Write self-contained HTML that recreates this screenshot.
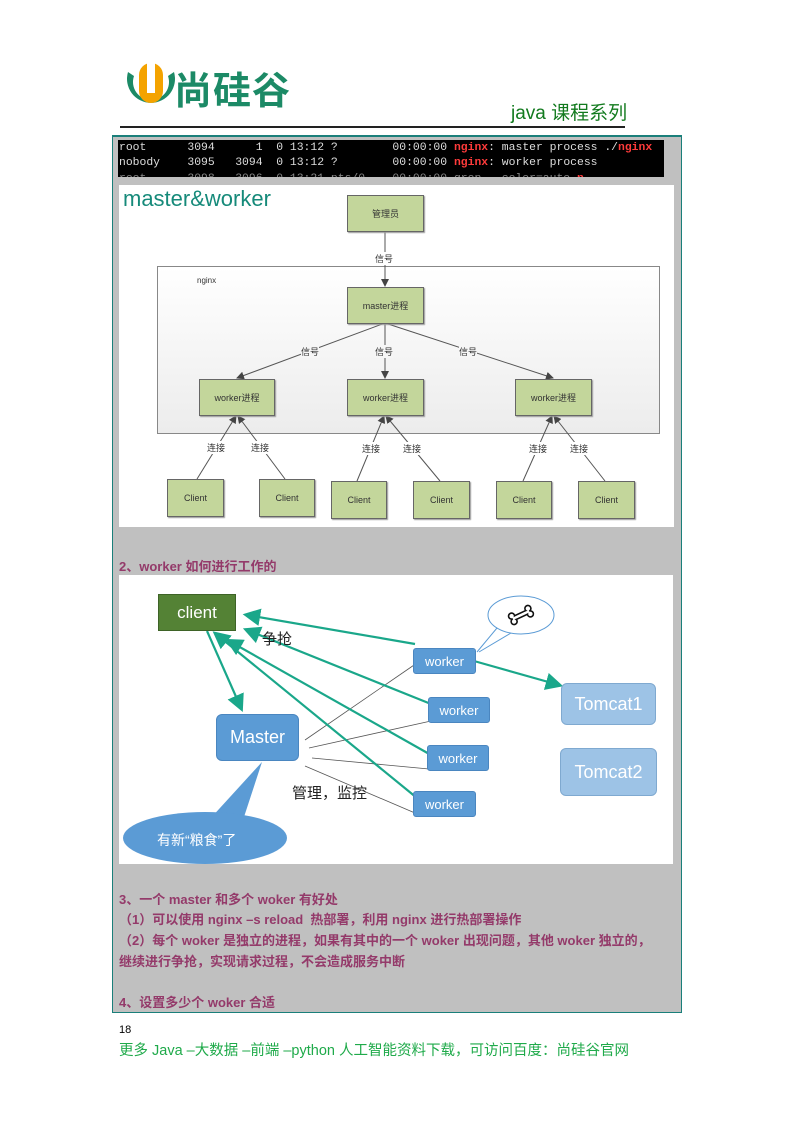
<!DOCTYPE html>
<html><head><meta charset="utf-8"><style>
body{margin:0;width:793px;height:1122px;background:#fff;position:relative;overflow:hidden;font-family:"Liberation Sans","Noto Sans CJK SC",sans-serif}
.a{position:absolute}
.t{font-family:"Liberation Mono",monospace;font-size:11.4px;color:#ddd;white-space:pre;position:absolute}
.r{color:#ff3b3b;font-weight:bold}
.g{position:absolute;background:#c3d69b;border:1px solid #666;box-shadow:1px 1px 1px #999;font-size:9px;color:#333;display:flex;align-items:center;justify-content:center}
.lb{position:absolute;font-size:9px;color:#333;background:#f6f6f6}
.p{position:absolute;color:#943a6a;font-weight:bold;font-size:13px;white-space:nowrap}
.w{position:absolute;background:#5b9bd5;border:1px solid #4a86c0;border-radius:3px;color:#fff;font-size:13px;display:flex;align-items:center;justify-content:center}
</style></head><body>
<!-- header -->
<svg class="a" style="left:124px;top:60px" width="54" height="54" viewBox="0 0 54 54">
<path d="M4 12 A24 24 0 1 0 50 12 L44 16 A18 18 0 1 1 10 16 Z" fill="#1c8a66"/>
<rect x="15" y="3" width="24" height="40" rx="12" fill="#f4a300"/>
<rect x="23" y="3" width="8" height="30" fill="#fff"/>
</svg>
<div class="a" style="left:174px;top:60px;font-size:38px;color:#1c8a66;font-weight:bold;letter-spacing:1px">尚硅谷</div>
<div class="a" style="left:511px;top:98px;font-size:19px;color:#127a1e">java 课程系列</div>
<div class="a" style="left:120px;top:126px;width:505px;border-top:2px solid #222"></div>
<!-- outer box -->
<div class="a" style="left:112px;top:135px;width:568px;height:875px;background:#c0c0c0;border:1px solid #1a7f7a;border-top:2px solid #1a7f7a"></div>
<!-- terminal -->
<div class="a" style="left:118px;top:140px;width:546px;height:37px;background:#000;overflow:hidden">
<div class="t" style="left:1px;top:2px">root      3094      1  0 13:12 ?        00:00:00 <span class="r">nginx</span>: master process ./<span class="r">nginx</span></div>
<div class="t" style="left:1px;top:17px">nobody    3095   3094  0 13:12 ?        00:00:00 <span class="r">nginx</span>: worker process</div>
<div class="t" style="left:1px;top:33px;color:#888">root      3098   3096  0 13:21 pts/0    00:00:00 grep --color=auto <span class="r">n</span></div>
</div>
<!-- diagram 1 -->
<div class="a" style="left:119px;top:185px;width:555px;height:342px;background:#fff"></div>
<div class="a" style="left:123px;top:186px;font-size:22px;color:#168a7a">master&amp;worker</div>
<div class="a" style="left:157px;top:266px;width:501px;height:166px;border:1px solid #888;background:linear-gradient(#fff,#ececec)"></div>
<div class="a" style="left:197px;top:276px;font-size:8px;color:#333">nginx</div>
<svg class="a" style="left:0;top:0" width="793" height="600">
<defs><marker id="m" markerWidth="8" markerHeight="8" refX="7" refY="4" orient="auto"><path d="M0 0L8 4L0 8Z" fill="#444"/></marker></defs>
<g stroke="#555" stroke-width="1" fill="none" marker-end="url(#m)">
<line x1="385" y1="231" x2="385" y2="286"/>
<line x1="385" y1="323" x2="237" y2="378"/>
<line x1="385" y1="323" x2="385" y2="378"/>
<line x1="385" y1="323" x2="553" y2="378"/>
<line x1="197" y1="479" x2="236" y2="416"/>
<line x1="285" y1="479" x2="238" y2="416"/>
<line x1="357" y1="481" x2="384" y2="416"/>
<line x1="440" y1="481" x2="386" y2="416"/>
<line x1="523" y1="481" x2="552" y2="416"/>
<line x1="605" y1="481" x2="554" y2="416"/>
</g></svg>
<div class="g" style="left:347px;top:195px;width:75px;height:35px">管理员</div>
<div class="g" style="left:347px;top:287px;width:75px;height:35px">master进程</div>
<div class="g" style="left:199px;top:379px;width:74px;height:35px">worker进程</div>
<div class="g" style="left:347px;top:379px;width:75px;height:35px">worker进程</div>
<div class="g" style="left:515px;top:379px;width:75px;height:35px">worker进程</div>
<div class="g" style="left:167px;top:479px;width:55px;height:36px">Client</div>
<div class="g" style="left:259px;top:479px;width:54px;height:36px">Client</div>
<div class="g" style="left:331px;top:481px;width:54px;height:36px">Client</div>
<div class="g" style="left:413px;top:481px;width:55px;height:36px">Client</div>
<div class="g" style="left:496px;top:481px;width:54px;height:36px">Client</div>
<div class="g" style="left:578px;top:481px;width:55px;height:36px">Client</div>
<div class="lb" style="left:375px;top:252px;background:#fff">信号</div>
<div class="lb" style="left:301px;top:345px">信号</div>
<div class="lb" style="left:375px;top:345px">信号</div>
<div class="lb" style="left:459px;top:345px">信号</div>
<div class="lb" style="left:207px;top:441px;background:#fff">连接</div>
<div class="lb" style="left:251px;top:441px;background:#fff">连接</div>
<div class="lb" style="left:362px;top:442px;background:#fff">连接</div>
<div class="lb" style="left:403px;top:442px;background:#fff">连接</div>
<div class="lb" style="left:529px;top:442px;background:#fff">连接</div>
<div class="lb" style="left:570px;top:442px;background:#fff">连接</div>
<div class="p" style="left:119px;top:556px">2、worker 如何进行工作的</div>
<!-- diagram 2 -->
<div class="a" style="left:119px;top:575px;width:554px;height:289px;background:#fff;overflow:hidden">
<svg class="a" style="left:0;top:0" width="554" height="289">
<defs><marker id="n" markerWidth="8" markerHeight="8" refX="6" refY="4" orient="auto"><path d="M0 0L8 4L0 8Z" fill="#1aa78a"/></marker></defs>
<ellipse cx="402" cy="40" rx="33" ry="19" fill="#fff" stroke="#5b9bd5"/>
<path d="M378 53 L358 77 M392 58 L360 77" stroke="#5b9bd5" fill="none"/>
<g transform="translate(402,40) rotate(-25)" fill="#fff" stroke="#111" stroke-width="1.6">
<rect x="-8" y="-2" width="16" height="4"/>
<circle cx="-9" cy="-3" r="3"/><circle cx="-9" cy="3" r="3"/>
<circle cx="9" cy="-3" r="3"/><circle cx="9" cy="3" r="3"/>
<rect x="-9" y="-1.2" width="18" height="2.4" stroke="none"/>
</g>
<g stroke="#555" stroke-width="0.8">
<line x1="186" y1="165" x2="298" y2="88"/>
<line x1="190" y1="173" x2="312" y2="146"/>
<line x1="193" y1="183" x2="310" y2="194"/>
<line x1="186" y1="191" x2="296" y2="238"/>
</g>
<g stroke="#1aa78a" stroke-width="2.2" fill="none" marker-end="url(#n)">
<line x1="296" y1="69" x2="128" y2="40"/>
<line x1="312" y1="129" x2="128" y2="55"/>
<line x1="312" y1="180" x2="110" y2="66"/>
<line x1="298" y1="223" x2="97" y2="59"/>
<line x1="88" y1="56" x2="122" y2="133"/>
<line x1="355" y1="86" x2="440" y2="110"/>
</g>
<path d="M143 187 L90 245 L124 245 Z" fill="#5b9bd5"/>
<ellipse cx="86" cy="263" rx="82" ry="26" fill="#5b9bd5"/>
<text x="38" y="270" font-size="14" fill="#fff" font-family="Liberation Sans,Noto Sans CJK SC,sans-serif">有新“粮食”了</text>
</svg>
<div class="a" style="left:39px;top:19px;width:76px;height:35px;background:#548235;border:1px solid #3e6327;color:#fff;font-size:17px;display:flex;align-items:center;justify-content:center">client</div>
<div class="a" style="left:143px;top:53px;font-size:15px;color:#222">争抢</div>
<div class="w" style="left:97px;top:139px;width:81px;height:45px;font-size:18px;border-radius:6px">Master</div>
<div class="w" style="left:294px;top:73px;width:61px;height:24px">worker</div>
<div class="w" style="left:309px;top:122px;width:60px;height:24px">worker</div>
<div class="w" style="left:308px;top:170px;width:60px;height:24px">worker</div>
<div class="w" style="left:294px;top:216px;width:61px;height:24px">worker</div>
<div class="a" style="left:173px;top:207px;font-size:15px;color:#222">管理，监控</div>
<div class="w" style="left:442px;top:108px;width:93px;height:40px;background:#9dc3e6;border-color:#7fa9d0;font-size:18px;border-radius:6px">Tomcat1</div>
<div class="w" style="left:441px;top:173px;width:95px;height:46px;background:#9dc3e6;border-color:#7fa9d0;font-size:18px;border-radius:6px">Tomcat2</div>
</div>
<div class="p" style="left:119px;top:889px">3、一个 master 和多个 woker 有好处</div>
<div class="p" style="left:119px;top:909px">（1）可以使用 nginx –s reload &nbsp;热部署，利用 nginx 进行热部署操作</div>
<div class="p" style="left:119px;top:930px">（2）每个 woker 是独立的进程，如果有其中的一个 woker 出现问题，其他 woker 独立的，</div>
<div class="p" style="left:119px;top:951px">继续进行争抢，实现请求过程，不会造成服务中断</div>
<div class="p" style="left:119px;top:992px">4、设置多少个 woker 合适</div>
<div class="a" style="left:119px;top:1024px;font-size:11px;color:#000">18</div>
<div class="a" style="left:119px;top:1039px;font-size:14.5px;color:#1faa4a;white-space:nowrap">更多 Java –大数据 –前端 –python 人工智能资料下载，可访问百度：尚硅谷官网</div>
</body></html>
